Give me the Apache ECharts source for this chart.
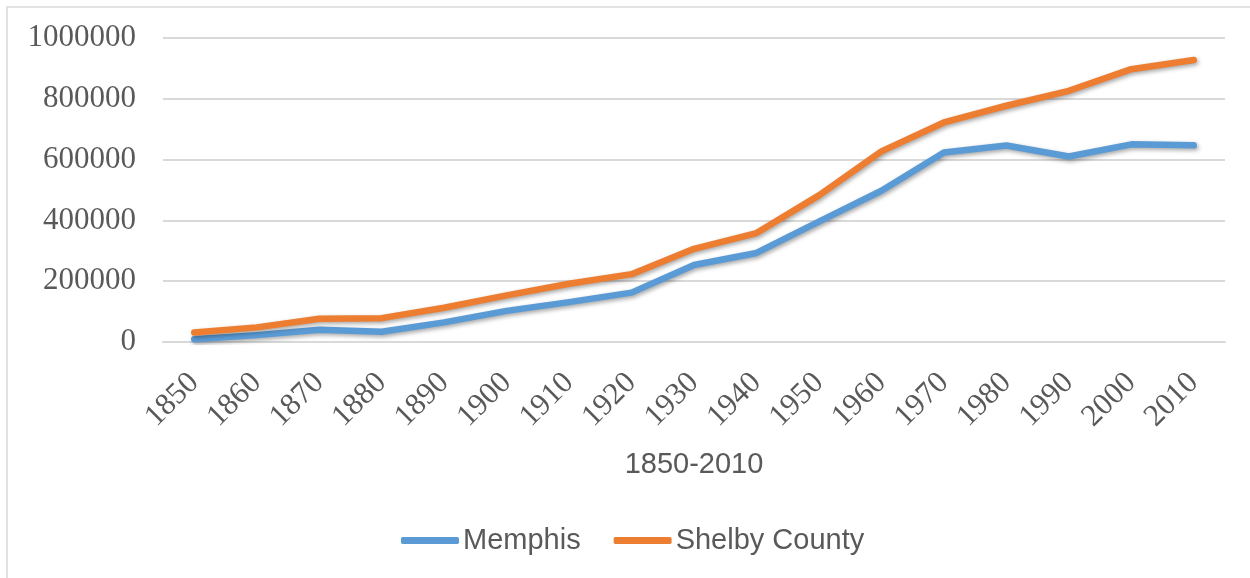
<!DOCTYPE html>
<html lang="en" style="height: 100%">
  <head>
    <meta charset="utf-8" />
  </head>
  <body style="height: 100%; margin: 0; background: #fff">
    <div id="container" style="width: 1250px; height: 578px"></div>
    <script src="https://cdn.jsdelivr.net/npm/echarts@6/dist/echarts.min.js"></script>
    <script type="text/javascript">
      // census years
      const years = [
        "1850", "1860", "1870", "1880", "1890", "1900", "1910", "1920", "1930",
        "1940", "1950", "1960", "1970", "1980", "1990", "2000", "2010",
      ];
      const memphis = [
        8841, 22623, 40226, 33592, 64495, 102320, 131105, 162351, 253143,
        292942, 396000, 497524, 623530, 646356, 610337, 650100, 646889,
      ];
      const shelby = [
        31157, 48092, 76378, 78430, 112740, 153557, 191439, 223216, 306482,
        358250, 482393, 627019, 722111, 777113, 826330, 897472, 927644,
      ];
      const yTicks = [0, 200000, 400000, 600000, 800000, 1000000];

      var dom = document.getElementById("container");
      var myChart = echarts.init(dom, null, { renderer: "canvas" });

      var serif = "'Liberation Serif', 'Times New Roman', serif";
      var sans = "'Liberation Sans', Arial, sans-serif";

      function lineSeries(name, data, color) {
        return {
          name: name,
          type: "line",
          data: data,
          symbol: "none",
          lineStyle: {
            width: 6.5,
            color: color,
            cap: "round",
            join: "round",
            shadowColor: "rgba(0,0,0,0.35)",
            shadowBlur: 4,
            shadowOffsetX: 1.5,
            shadowOffsetY: 2,
          },
          itemStyle: { color: color },
        };
      }

      var option = {
        animation: false,
        graphic: [
          {
            type: "rect",
            shape: { x: 7, y: 7, width: 1260, height: 600 },
            style: { fill: "none", stroke: "#d9d9d9", lineWidth: 1.5 },
            silent: true,
          },
        ],
        grid: { left: 163, right: 25, top: 38, bottom: 236 },
        legend: {
          bottom: 18,
          left: 396,
          icon: "roundRect",
          itemWidth: 58,
          itemHeight: 7,
          itemGap: 33,
          textStyle: { fontFamily: sans, fontSize: 29, color: "#595959", padding: [0, 0, 0, -1] },
          data: ["Memphis", "Shelby County"],
        },
        xAxis: {
          type: "category",
          data: years,
          boundaryGap: true,
          name: "1850-2010",
          nameLocation: "middle",
          nameGap: 108,
          nameTextStyle: { fontFamily: sans, fontSize: 29, color: "#595959" },
          axisLine: { lineStyle: { color: "#d9d9d9", width: 2 } },
          axisTick: { show: false },
          axisLabel: {
            interval: 0,
            rotate: 45,
            margin: 36,
            fontFamily: serif,
            fontSize: 31,
            color: "#595959",
          },
        },
        yAxis: {
          type: "value",
          min: yTicks[0],
          max: yTicks[yTicks.length - 1],
          interval: 200000,
          axisLine: { show: false },
          axisTick: { show: false },
          splitLine: { lineStyle: { color: "#d9d9d9", width: 2 } },
          axisLabel: {
            margin: 27,
            fontFamily: serif,
            fontSize: 31,
            color: "#595959",
            formatter: function (v) { return String(v); },
          },
        },
        series: [
          lineSeries("Memphis", memphis, "#5b9bd5"),
          lineSeries("Shelby County", shelby, "#ed7d31"),
        ],
      };
      myChart.setOption(option);
      window.addEventListener("resize", myChart.resize);
    </script>
  </body>
</html>
